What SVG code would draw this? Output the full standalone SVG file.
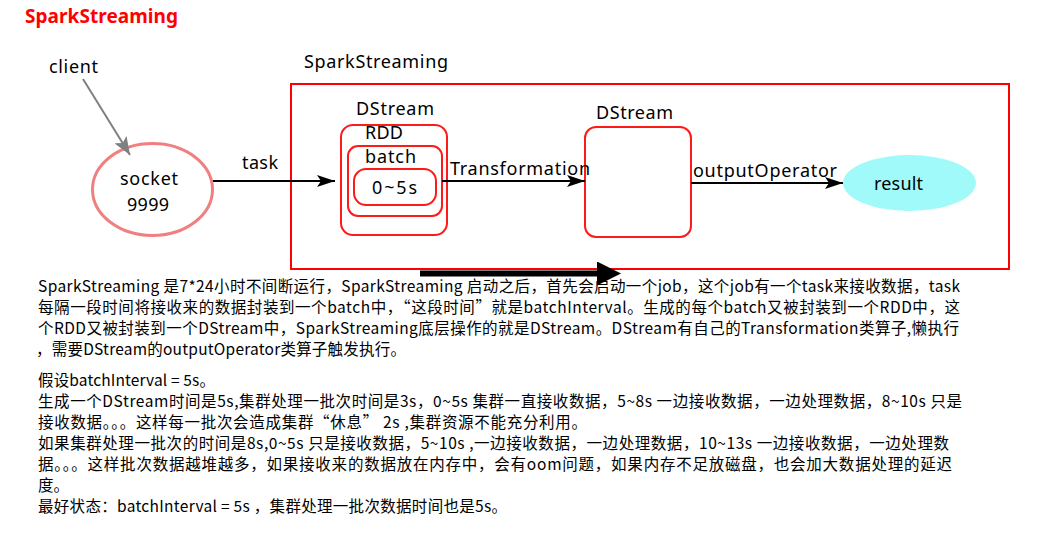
<svg xmlns="http://www.w3.org/2000/svg" width="1042" height="548" viewBox="0 0 1042 548">
<style>
.lbl{font-family:"Noto Sans","Open Sans","DejaVu Sans",sans-serif;font-size:18px;fill:#000}
.title{font-family:"Noto Sans","Open Sans",sans-serif;font-size:19px;font-weight:bold;fill:#ff0000}
.body{font-family:"Noto Sans CJK SC","Noto Sans",sans-serif;font-size:15.5px;fill:#000}
.box{fill:none;stroke:#ff1a1a;stroke-width:2}
.conn{fill:none;stroke:#000;stroke-width:2}
</style>
<defs>
<marker id="ah" markerUnits="userSpaceOnUse" markerWidth="18" markerHeight="12" refX="18" refY="6" orient="auto">
<path d="M0,0 L18,6 L0,12 L4,6 z" fill="#000"/>
</marker>
<marker id="ahg" markerUnits="userSpaceOnUse" markerWidth="18" markerHeight="14" refX="18" refY="7" orient="auto">
<path d="M0,0 L18,7 L0,14 L4,7 z" fill="#808080"/>
</marker>
<marker id="ahbig" markerUnits="userSpaceOnUse" markerWidth="26" markerHeight="24" refX="2" refY="12" orient="auto">
<path d="M0,0 L24,12 L0,24 z" fill="#000"/>
</marker>
</defs>
<rect width="1042" height="548" fill="#fff"/>
<text class="title" x="25" y="23" textLength="153">SparkStreaming</text>

<g id="client"><text class="lbl" x="49" y="73" textLength="49">client</text></g>

<g id="socket">
<ellipse cx="152.5" cy="189.5" rx="60" ry="46" fill="#fff" stroke="#f08080" stroke-width="3"/>
<text class="lbl" x="149" y="185" text-anchor="middle" textLength="58">socket</text>
<text class="lbl" x="148" y="211" text-anchor="middle" textLength="42">9999</text>
</g>

<g id="sparkstreaming">
<rect x="291" y="84" width="718" height="185" fill="none" stroke="#ff0000" stroke-width="2"/>
<text class="lbl" x="304" y="68" textLength="144">SparkStreaming</text>
</g>

<g id="dstream1">
<text class="lbl" x="356" y="115" textLength="78">DStream</text>
<rect class="box" x="341" y="125" width="106" height="110" rx="12" stroke="#ff4040"/>
</g>
<g id="rdd">
<text class="lbl" x="365" y="139" textLength="38">RDD</text>
<rect class="box" x="348" y="146" width="94" height="70" rx="10"/>
<text class="lbl" x="365" y="163" textLength="51">batch</text>
</g>
<g id="batch">
<rect class="box" x="354" y="169" width="82" height="36" rx="12"/>
<text class="lbl" x="372" y="194" textLength="45">0~5s</text>
</g>

<g id="dstream2">
<text class="lbl" x="596" y="119" textLength="77">DStream</text>
<rect class="box" x="585" y="127" width="106" height="110" rx="11"/>
</g>

<g id="result">
<ellipse cx="909.5" cy="183" rx="66.5" ry="28" fill="#a0fafa"/>
<text class="lbl" x="874" y="190" textLength="49">result</text>
</g>

<g id="connectors">
<line x1="83" y1="79" x2="130" y2="155" stroke="#808080" stroke-width="2" marker-end="url(#ahg)"/>
<line class="conn" x1="213" y1="181" x2="335" y2="181" marker-end="url(#ah)"/>
<text class="lbl" x="242" y="169" textLength="36">task</text>
<line class="conn" x1="442" y1="181" x2="585" y2="181" marker-end="url(#ah)"/>
<text class="lbl" x="450" y="175" textLength="140">Transformation</text>
<line class="conn" x1="691" y1="183" x2="843" y2="183" marker-end="url(#ah)"/>
<text class="lbl" x="693" y="177" textLength="144">outputOperator</text>
<line x1="420" y1="273.5" x2="599" y2="273.5" stroke="#000" stroke-width="6" marker-end="url(#ahbig)"/>
</g>

<g id="description">
<text class="body" x="38" y="292" textLength="922">SparkStreaming 是7*24小时不间断运行，SparkStreaming 启动之后，首先会启动一个job，这个job有一个task来接收数据，task</text>
<text class="body" x="38" y="313" textLength="922">每隔一段时间将接收来的数据封装到一个batch中，“这段时间”就是batchInterval。生成的每个batch又被封装到一个RDD中，这</text>
<text class="body" x="38" y="334" textLength="921">个RDD又被封装到一个DStream中，SparkStreaming底层操作的就是DStream。DStream有自己的Transformation类算子,懒执行</text>
<text class="body" x="36" y="355" textLength="370">，需要DStream的outputOperator类算子触发执行。</text>
<text class="body" x="38" y="386" textLength="177">假设batchInterval = 5s。</text>
<text class="body" x="38" y="407" textLength="924">生成一个DStream时间是5s,集群处理一批次时间是3s，0~5s 集群一直接收数据，5~8s 一边接收数据，一边处理数据，8~10s 只是</text>
<text class="body" x="38" y="428" textLength="549">接收数据。。。这样每一批次会造成集群“休息” 2s ,集群资源不能充分利用。</text>
<text class="body" x="38" y="449" textLength="911">如果集群处理一批次的时间是8s,0~5s 只是接收数据，5~10s ,一边接收数据，一边处理数据，10~13s 一边接收数据，一边处理数</text>
<text class="body" x="38" y="470" textLength="914">据。。。这样批次数据越堆越多，如果接收来的数据放在内存中，会有oom问题，如果内存不足放磁盘，也会加大数据处理的延迟</text>
<text class="body" x="38" y="491">度。</text>
<text class="body" x="38" y="512" textLength="469">最好状态：batchInterval = 5s ，集群处理一批次数据时间也是5s。</text>
</g>
</svg>
